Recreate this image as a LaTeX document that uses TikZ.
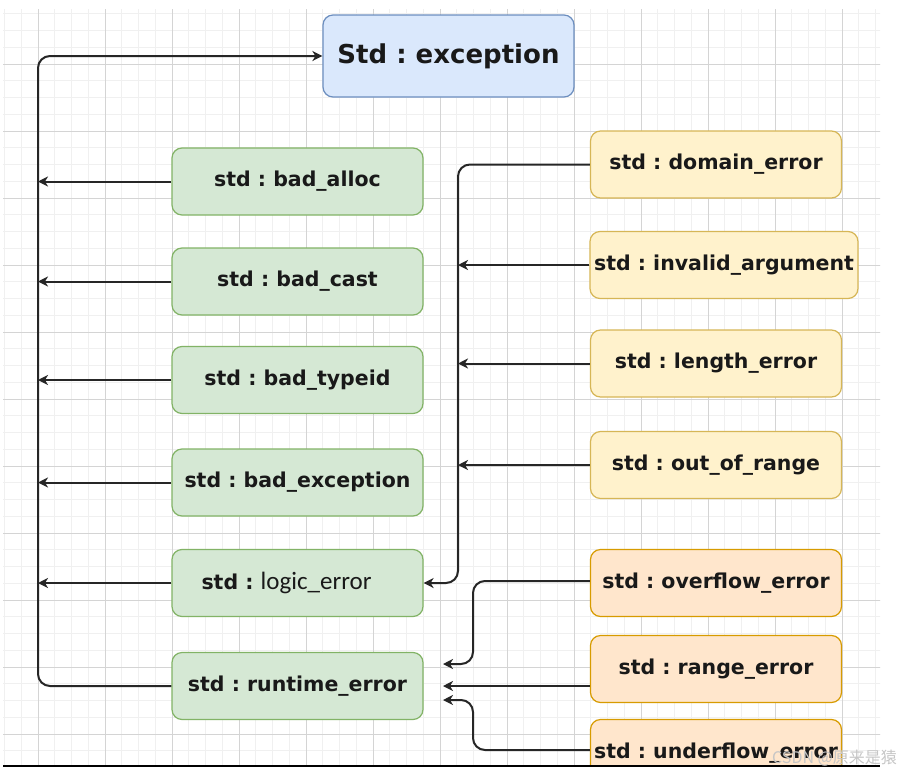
\documentclass[tikz,border=0pt]{standalone}
\usepackage{fontspec}
\setmainfont{DejaVu Sans}
\newfontfamily\cjk{Noto Sans CJK SC}
\newfontfamily\carl{Carlito}
\usetikzlibrary{arrows.meta,calc}
\definecolor{bluefill}{HTML}{DAE8FC}\definecolor{blueline}{HTML}{6C8EBF}
\definecolor{greenfill}{HTML}{D5E8D4}\definecolor{greenline}{HTML}{82B366}
\definecolor{yelfill}{HTML}{FFF2CC}\definecolor{yelline}{HTML}{D6B656}
\definecolor{orafill}{HTML}{FFE6CC}\definecolor{oraline}{HTML}{D79B00}
\definecolor{gridminor}{HTML}{F0F0F0}\definecolor{gridmajor}{HTML}{D4D4D4}
\frenchspacing
\tikzset{
  box/.style={rounded corners=10pt, line width=1.2pt, minimum width=251pt, minimum height=67pt,
    inner sep=0pt, font=\frenchspacing\bfseries\fontsize{20.5}{24}\selectfont, text=black!90},
  gbox/.style={box, fill=greenfill, draw=greenline},
  ybox/.style={box, fill=yelfill, draw=yelline},
  obox/.style={box, fill=orafill, draw=oraline},
  conn/.style={line width=2pt, draw=black!85, rounded corners=12pt},
  arr/.style={conn, -{Stealth[length=10pt,width=10pt,inset=3pt]}},
}
\begin{document}
\begin{tikzpicture}[x=1pt,y=-1pt]
\useasboundingbox (0,0) rectangle (900,774);
\fill[white] (0,0) rectangle (900,774);
% grid
\begin{scope}
\clip (3,9) rectangle (880,765);
\foreach \i in {0,...,53} {
  \pgfmathsetmacro\xx{4.5+16.75*\i}
  \draw[gridminor, line width=0.7pt] (\xx,0) -- (\xx,780);
}
\foreach \j in {-1,...,46} {
  \pgfmathsetmacro\yy{13.75+16.75*\j}
  \draw[gridminor, line width=0.7pt] (0,\yy) -- (900,\yy);
}
\foreach \i in {0,...,13} {
  \pgfmathsetmacro\xx{38+67*\i}
  \draw[gridmajor, line width=0.9pt] (\xx,0) -- (\xx,780);
}
\foreach \j in {-1,...,11} {
  \pgfmathsetmacro\yy{64+67*\j}
  \draw[gridmajor, line width=0.9pt] (0,\yy) -- (900,\yy);
}
\end{scope}

% nodes
\node[box, fill=bluefill, draw=blueline, minimum height=82pt, font=\frenchspacing\bfseries\fontsize{26}{30}\selectfont]
  (exc) at (448.5,56) {Std : exception};

\node[gbox] (alloc) at (297.5,181.5) {std : bad\_alloc};
\node[gbox] (cast) at (297.5,281.5) {std : bad\_cast};
\node[gbox] (typeid) at (297.5,380) {std : bad\_typeid};
\node[gbox] (badexc) at (297.5,482.5) {std : bad\_exception};
\node[gbox] (logic) at (297.5,583) {std :\ {\mdseries\carl\fontsize{25}{28}\selectfont logic\_error}\hspace*{22pt}};
\node[gbox] (runtime) at (297.5,686) {std : runtime\_error};

\node[ybox] (domain) at (716,164.5) {std : domain\_error};
\node[ybox, minimum width=268pt] (invalid) at (724,265) {std : invalid\_argument};
\node[ybox] (length) at (716,363.5) {std : length\_error};
\node[ybox] (range1) at (716,465) {std : out\_of\_range};

\node[obox] (overflow) at (716,583) {std : overflow\_error};
\node[obox] (rangeerr) at (716,669) {std : range\_error};
\begin{scope}
\clip (0,0) rectangle (900,765);
\node[obox] (underflow) at (716,753) {std : underflow\_error};
\end{scope}

% connector helper coordinates
\coordinate (L) at (38,0);
\coordinate (M) at (458,0);
\coordinate (N) at (473,0);
\coordinate (ro1) at (443,664);
\coordinate (ro2) at (443,686);
\coordinate (ro3) at (443,700);

% left trunk to exception
\draw[arr] (runtime.west) -| (L |- exc.west) -- (exc.west);
\foreach \n in {alloc,cast,typeid,badexc,logic} {
  \draw[arr] (\n.west) -- (L |- \n.west);
}

% logic_error family
\draw[arr] (domain.west) -| (M |- logic.east) -- (logic.east);
\foreach \n in {invalid,length,range1} {
  \draw[arr] (\n.west) -- (M |- \n.west);
}

% runtime_error family
\draw[arr] ([yshift=2pt]overflow.west) -| (N |- ro1) -- (ro1);
\draw[arr] ([yshift=-17pt]rangeerr.west) -- (ro2);
\draw[arr] ([yshift=3pt]underflow.west) -| (N |- ro3) -- (ro3);

% bottom frame line
\draw[line width=1.3pt, black] (3,766) -- (880,766);

% watermark
\node[anchor=east, text=gray!45, font=\cjk\fontsize{16}{19}\selectfont, inner sep=0pt]
  (wm) at (897,758) {CSDN @原来是猿};
\end{tikzpicture}
\end{document}
